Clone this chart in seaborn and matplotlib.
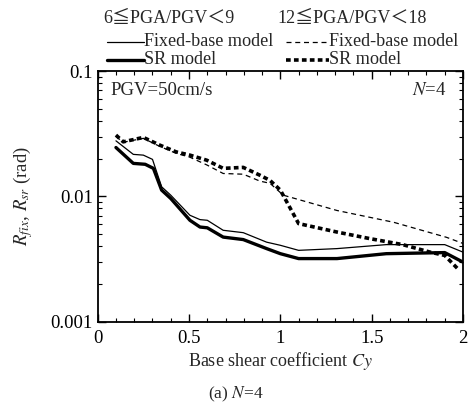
import matplotlib
matplotlib.use("Agg")
import matplotlib.pyplot as plt
import seaborn as sns
import numpy as np
import pandas as pd
from matplotlib.ticker import MultipleLocator, LogLocator, NullFormatter, FixedLocator, FixedFormatter

sns.set_style("ticks")
plt.rcParams['font.family'] = ['Liberation Serif', 'Noto Sans CJK JP']
plt.rcParams['mathtext.fontset'] = 'stix'

# --- data ---
fix_a_cy = [0.10, 0.195, 0.25, 0.30, 0.35, 0.40, 0.505, 0.56, 0.60, 0.687, 0.797, 0.925, 1.00, 1.10, 1.31, 1.58, 1.90, 2.00]
fix_a_r  = [0.0277, 0.0216, 0.0213, 0.0197, 0.0119, 0.0102, 0.00705, 0.00651, 0.00643, 0.00535, 0.00512, 0.00430, 0.00406, 0.00370, 0.00382, 0.00411, 0.00411, 0.00358]

sr_a_cy = [0.10, 0.195, 0.26, 0.305, 0.35, 0.40, 0.505, 0.56, 0.60, 0.687, 0.797, 0.925, 1.00, 1.10, 1.31, 1.58, 1.90, 2.00]
sr_a_r  = [0.0245, 0.0183, 0.0180, 0.0167, 0.0112, 0.0096, 0.00643, 0.00568, 0.00560, 0.00472, 0.00451, 0.00382, 0.00348, 0.00318, 0.00318, 0.00348, 0.00355, 0.00298]

fix_b_cy = [0.10, 0.14, 0.25, 0.34, 0.43, 0.505, 0.597, 0.687, 0.797, 0.889, 0.943, 1.016, 1.31, 1.62, 1.91, 2.00]
fix_b_r  = [0.0300, 0.0270, 0.0290, 0.0250, 0.0220, 0.0205, 0.0178, 0.0152, 0.0150, 0.0132, 0.0127, 0.0102, 0.0077, 0.0062, 0.0047, 0.0042]

sr_b_cy = [0.10, 0.14, 0.25, 0.34, 0.43, 0.505, 0.597, 0.687, 0.797, 0.889, 0.943, 1.00, 1.10, 1.31, 1.49, 1.67, 1.82, 1.90, 1.98]
sr_b_r  = [0.0308, 0.0272, 0.0295, 0.0256, 0.0226, 0.0213, 0.0194, 0.0167, 0.0170, 0.0147, 0.0134, 0.0112, 0.00605, 0.00518, 0.00459, 0.00411, 0.00358, 0.00337, 0.00256]

group_labels = ["6\u2266PGA/PGV\uff1c9", "12\u2266PGA/PGV\uff1c18"]
model_labels = ["Fixed-base model", "SR model"]
x_ticks = [0, 0.5, 1, 1.5, 2]
x_tick_labels = ["0", "0.5", "1", "1.5", "2"]
y_ticks = [0.001, 0.01, 0.1]
y_tick_labels = ["0.001", "0.01", "0.1"]

fig = plt.figure(figsize=(4.69, 4.03), dpi=100)
ax = fig.add_axes([0.2083, 0.2022, 0.7789, 0.6216])

series = [
    (fix_a_cy, fix_a_r, 0.9, '-'),
    (sr_a_cy, sr_a_r, 2.4, '-'),
    (fix_b_cy, fix_b_r, 0.9, (0, (4, 3))),
    (sr_b_cy, sr_b_r, 2.6, (0, (1.3, 0.9))),
]
for xs, ys, lw, ls in series:
    df = pd.DataFrame({"Cy": xs, "R": ys})
    sns.lineplot(data=df, x="Cy", y="R", ax=ax, color='black', linewidth=lw, legend=False)
    ax.lines[-1].set_linestyle(ls)

ax.set_yscale('log')
ax.set_xlim(0, 2)
ax.set_ylim(0.001, 0.1)
ax.xaxis.set_major_locator(FixedLocator(x_ticks))
ax.xaxis.set_major_formatter(FixedFormatter(x_tick_labels))
ax.xaxis.set_minor_locator(MultipleLocator(0.1))
ax.yaxis.set_major_locator(FixedLocator(y_ticks))
ax.yaxis.set_major_formatter(FixedFormatter(y_tick_labels))
ax.yaxis.set_minor_locator(LogLocator(base=10, subs=np.arange(2, 10)))
ax.yaxis.set_minor_formatter(NullFormatter())
ax.tick_params(which='both', direction='in', top=True, right=True, labelsize=13.5, colors='black')
ax.tick_params(which='major', length=6, width=1.0)
ax.tick_params(which='minor', length=3, width=0.8)
ax.tick_params(axis='x', pad=6)
for s in ax.spines.values():
    s.set_linewidth(1.3)
    s.set_color('black')

ax.set_xlabel("Base shear coefficient $\\mathit{Cy}$", fontsize=13, labelpad=2)
ax.set_ylabel("$R_{\\mathit{fix}}$, $R_{\\mathit{sr}}$ (rad)", fontsize=13.5, labelpad=11)

ax.text(0.035, 0.955, "PGV=50cm/s", transform=ax.transAxes, fontsize=13.5, va='top', ha='left')
ax.text(0.955, 0.955, "$N$=4", transform=ax.transAxes, fontsize=13.5, va='top', ha='right')

# legend-like headers above the axes (figure coords)
fig.text(103/469, 1 - 18/403, group_labels[0], fontsize=13, va='center', ha='left')
fig.text(277/469, 1 - 18/403, group_labels[1], fontsize=13, va='center', ha='left')
def leg_line(x0, x1, y, lw, ls):
    fig.add_artist(plt.Line2D([x0/469, x1/469], [1 - y/403, 1 - y/403], color='black', lw=lw, linestyle=ls))
leg_line(107, 144, 42, 0.9, '-')
leg_line(107, 144, 60, 2.4, '-')
leg_line(286, 329, 42, 0.9, (0, (4, 3)))
leg_line(286, 329, 60, 2.6, (0, (1.3, 0.9)))
fig.text(144/469, 1 - 41/403, model_labels[0], fontsize=13.1, va='center', ha='left')
fig.text(144/469, 1 - 59/403, model_labels[1], fontsize=13.1, va='center', ha='left')
fig.text(329/469, 1 - 41/403, model_labels[0], fontsize=13.1, va='center', ha='left')
fig.text(329/469, 1 - 59/403, model_labels[1], fontsize=13.1, va='center', ha='left')

fig.text(236/469, 1 - 394/403, "(a) $N$=4", fontsize=12.5, va='center', ha='center')

fig.savefig("out.png", dpi=100)
